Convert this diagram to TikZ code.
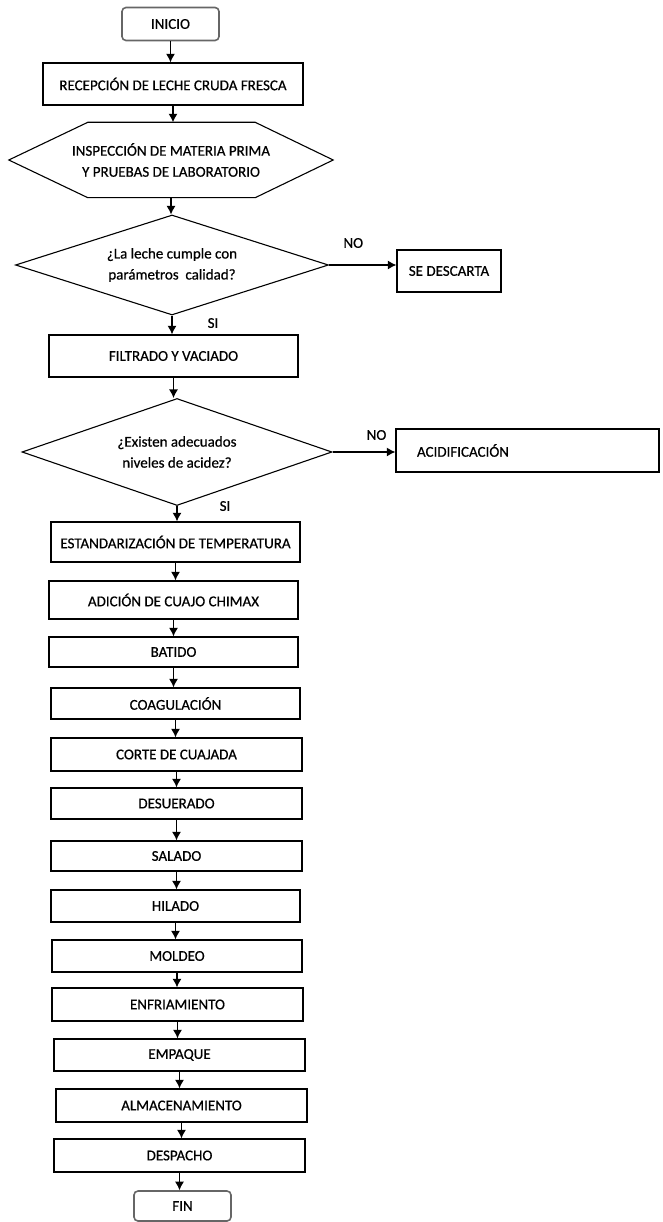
\documentclass[tikz,border=0pt]{standalone}
\usepackage{fontspec}
\setmainfont{Carlito}[FakeBold=0.6]
\usetikzlibrary{arrows.meta,shapes.geometric}
\tikzset{%
  font=\fontsize{15}{21}\selectfont,>={Latex[length=8.5pt,width=9pt]},
  proc/.style={draw, rectangle, line width=1.3pt, inner sep=0pt, align=center},
  term/.style={draw=black!60, rectangle, rounded corners=4pt, line width=1.6pt,
    minimum width=97pt, minimum height=33pt, inner sep=0pt},
  dec/.style={draw, diamond, aspect=3.1, line width=1.1pt, inner sep=0pt, align=center},
  prep/.style={rectangle, inner sep=0pt, align=center},
  edgeline/.style={line width=1.1pt, line join=miter},
  lbl/.style={inner sep=0pt},
  line/.style={draw, line width=1.2pt, ->}
}
\begin{document}
\begin{tikzpicture}[x=1pt,y=-1pt]
  \useasboundingbox (0,0) rectangle (662,1222);
  \node[term] (inicio) at (170.5,24) {INICIO};
  \node[proc, minimum width=260pt, minimum height=42pt] (recep) at (173,84) {RECEPCIÓN DE LECHE CRUDA FRESCA};
  \node[prep, minimum width=324pt, minimum height=75pt] (insp) at (171,160)
    {INSPECCIÓN DE MATERIA PRIMA\\Y PRUEBAS DE LABORATORIO};
  \draw[edgeline] (insp.west) -- ([xshift=79pt]insp.north west) -- ([xshift=-78pt]insp.north east)
    -- (insp.east) -- ([xshift=-78pt]insp.south east) -- ([xshift=79pt]insp.south west) -- cycle;
  \node[dec, minimum width=313pt, minimum height=100pt] (calidad) at (172,265)
    {¿La leche cumple con\\parámetros~~calidad?};
  \node[proc, minimum width=104pt, minimum height=42pt] (descarta) at (449,271) {SE DESCARTA};
  \node[proc, minimum width=249pt, minimum height=42pt] (filtrado) at (173.5,356) {FILTRADO Y VACIADO};
  \node[dec, minimum width=310pt, minimum height=107pt] (acidez) at (177,452)
    {¿Existen adecuados\\niveles de acidez?};
  \node[proc, minimum height=43pt, text width=221pt, inner xsep=21pt, align=left] (acidif) at (527.5,450.5) {ACIDIFICACIÓN};
  \node[proc, minimum width=249pt, minimum height=40pt] (estand) at (175.5,542) {ESTANDARIZACIÓN DE TEMPERATURA};
  \node[proc, minimum width=249pt, minimum height=38pt] (cuajo) at (173.5,600) {ADICIÓN DE CUAJO CHIMAX};
  \node[proc, minimum width=249pt, minimum height=30pt] (batido) at (173.5,652) {BATIDO};
  \node[proc, minimum width=249pt, minimum height=31pt] (coag) at (175.5,703.5) {COAGULACIÓN};
  \node[proc, minimum width=251pt, minimum height=33pt] (corte) at (176.5,754.5) {CORTE DE CUAJADA};
  \node[proc, minimum width=251pt, minimum height=31pt] (desuer) at (176.5,803.5) {DESUERADO};
  \node[proc, minimum width=251pt, minimum height=30pt] (salado) at (176.5,856) {SALADO};
  \node[proc, minimum width=249pt, minimum height=32pt] (hilado) at (175.5,906) {HILADO};
  \node[proc, minimum width=250pt, minimum height=32pt] (moldeo) at (177,956) {MOLDEO};
  \node[proc, minimum width=251pt, minimum height=33pt] (enfria) at (177.5,1004.5) {ENFRIAMIENTO};
  \node[proc, minimum width=251pt, minimum height=32pt] (empaque) at (179.5,1055) {EMPAQUE};
  \node[proc, minimum width=251pt, minimum height=33pt] (almac) at (181.5,1105.5) {ALMACENAMIENTO};
  \node[proc, minimum width=251pt, minimum height=33pt] (despacho) at (179.5,1155.5) {DESPACHO};
  \node[term, minimum height=30pt] (fin) at (182.5,1206) {FIN};

  \draw[line] (inicio) -- (inicio |- recep.north);
  \draw[line] (recep) -- (recep |- insp.north);
  \draw[line] (insp) -- (insp |- calidad.north);
  \draw[line] (calidad) -- (calidad -| descarta.west) node[lbl, pos=.36, yshift=22pt] {NO};
  \draw[line] (calidad) -- (calidad |- filtrado.north) node[lbl, pos=.4, xshift=41pt] {SI};
  \draw[line] (filtrado) -- (filtrado |- acidez.north);
  \draw[line] (acidez) -- (acidez -| acidif.west) node[lbl, pos=.7, yshift=17pt] {NO};
  \draw[line] (acidez) -- (acidez |- estand.north) node[lbl, pos=0, xshift=48pt] {SI};
  \draw[line] (estand) -- (estand |- cuajo.north);
  \draw[line] (cuajo) -- (cuajo |- batido.north);
  \draw[line] (batido) -- (batido |- coag.north);
  \draw[line] (coag) -- (coag |- corte.north);
  \draw[line] (corte) -- (corte |- desuer.north);
  \draw[line] (desuer) -- (desuer |- salado.north);
  \draw[line] (salado) -- (salado |- hilado.north);
  \draw[line] (hilado) -- (hilado |- moldeo.north);
  \draw[line] (moldeo) -- (moldeo |- enfria.north);
  \draw[line] (enfria) -- (enfria |- empaque.north);
  \draw[line] (empaque) -- (empaque |- almac.north);
  \draw[line] (almac) -- (almac |- despacho.north);
  \draw[line] (despacho) -- (despacho |- fin.north);
\end{tikzpicture}
\end{document}
